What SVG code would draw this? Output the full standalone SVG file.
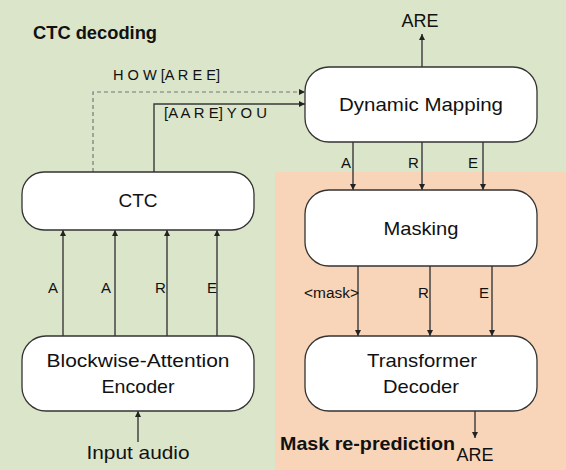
<svg xmlns="http://www.w3.org/2000/svg" width="566" height="470" viewBox="0 0 566 470">
<defs>
<style>
.box{fill:#fff;stroke:#333;stroke-width:1.3}
.ln{fill:none;stroke:#3a3a3a;stroke-width:1.4}
.dash{fill:none;stroke:#777;stroke-width:1.2;stroke-dasharray:4 3}
text{font-family:"Liberation Sans",Arial,sans-serif;fill:#111}
.t{font-size:19px;text-anchor:middle}
.s{font-size:14px}
.l{font-size:15px}
.b{font-weight:bold;font-size:19px}
</style>
<marker id="ah" viewBox="0 0 10 10" refX="10" refY="5" markerWidth="6" markerHeight="6" markerUnits="userSpaceOnUse" orient="auto">
<path d="M0,0 L10,5 L0,10 z" fill="#222"/>
</marker>
</defs>
<rect x="0" y="0" width="566" height="470" fill="#dbe5c9"/>
<rect x="275" y="172" width="291" height="298" fill="#f8d5b8"/>
<text class="b" x="33" y="39" textLength="124" lengthAdjust="spacingAndGlyphs">CTC decoding</text>
<text class="b" x="280" y="450" textLength="175" lengthAdjust="spacingAndGlyphs">Mask re-prediction</text>
<g id="connectors">
<path class="dash" d="M93,172 V92 H305" marker-end="url(#ah)"/>
<path class="ln" d="M154,172 V104 H305" marker-end="url(#ah)"/>
<path class="ln" d="M422,67 V34" marker-end="url(#ah)"/>
<path class="ln" d="M63,336 V230" marker-end="url(#ah)"/>
<path class="ln" d="M115,336 V230" marker-end="url(#ah)"/>
<path class="ln" d="M167,336 V230" marker-end="url(#ah)"/>
<path class="ln" d="M217,336 V230" marker-end="url(#ah)"/>
<path class="ln" d="M138,442 V411" marker-end="url(#ah)"/>
<path class="ln" d="M353,142 V190" marker-end="url(#ah)"/>
<path class="ln" d="M422,142 V190" marker-end="url(#ah)"/>
<path class="ln" d="M483,142 V190" marker-end="url(#ah)"/>
<path class="ln" d="M358,266 V336" marker-end="url(#ah)"/>
<path class="ln" d="M430,266 V336" marker-end="url(#ah)"/>
<path class="ln" d="M492,266 V336" marker-end="url(#ah)"/>
<path class="ln" d="M475,411 V438" marker-end="url(#ah)"/>
<text class="s" x="113" y="80" textLength="107" lengthAdjust="spacingAndGlyphs">H O W [A R E E]</text>
<text class="s" x="164" y="118" textLength="103" lengthAdjust="spacingAndGlyphs">[A A R E] Y O U</text>
<text class="t" x="420" y="27" style="font-size:18px">ARE</text>
<text class="l" x="48" y="293">A</text>
<text class="l" x="101" y="293">A</text>
<text class="l" x="155" y="293">R</text>
<text class="l" x="207" y="293">E</text>
<text class="l" x="341" y="168">A</text>
<text class="l" x="408" y="168">R</text>
<text class="l" x="468" y="168">E</text>
<text class="s" x="304" y="298" textLength="55" lengthAdjust="spacingAndGlyphs">&lt;mask&gt;</text>
<text class="l" x="418" y="298">R</text>
<text class="l" x="479" y="298">E</text>
<text class="t" x="475" y="461" style="font-size:18px">ARE</text>
<text class="t" x="138" y="459" textLength="103" lengthAdjust="spacingAndGlyphs">Input audio</text>
</g>
<g id="dynamic-mapping">
<rect class="box" x="305" y="67" width="232" height="75" rx="24"/>
<text class="t" x="421" y="111" textLength="164" lengthAdjust="spacingAndGlyphs">Dynamic Mapping</text>
</g>
<g id="ctc">
<rect class="box" x="22" y="172" width="232" height="58" rx="22"/>
<text class="t" x="138" y="207">CTC</text>
</g>
<g id="encoder">
<rect class="box" x="22" y="336" width="232" height="75" rx="24"/>
<text class="t" x="138" y="367" textLength="183" lengthAdjust="spacingAndGlyphs">Blockwise-Attention</text>
<text class="t" x="138" y="393" textLength="73" lengthAdjust="spacingAndGlyphs">Encoder</text>
</g>
<g id="masking">
<rect class="box" x="305" y="190" width="232" height="76" rx="24"/>
<text class="t" x="421" y="235" textLength="75" lengthAdjust="spacingAndGlyphs">Masking</text>
</g>
<g id="transformer-decoder">
<rect class="box" x="305" y="336" width="232" height="75" rx="24"/>
<text class="t" x="422" y="367" textLength="110" lengthAdjust="spacingAndGlyphs">Transformer</text>
<text class="t" x="421" y="393" textLength="76" lengthAdjust="spacingAndGlyphs">Decoder</text>
</g>
</svg>
